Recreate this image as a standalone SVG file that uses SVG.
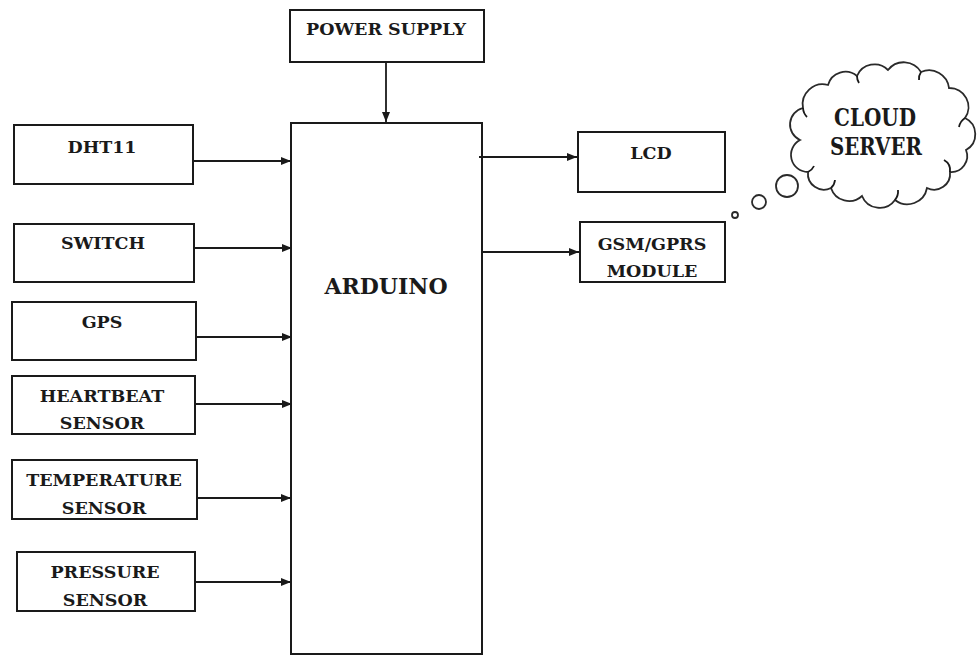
<svg xmlns="http://www.w3.org/2000/svg" width="978" height="657" viewBox="0 0 978 657">
<style>
.box{fill:#fff;stroke:#1a1a1a;stroke-width:2}
.lbl{font-family:"DejaVu Serif","Liberation Serif",serif;font-weight:bold;font-size:17.5px;fill:#1a1a1a;text-anchor:middle}
.big{font-size:22px}
.cl{font-size:24px}
.con{stroke:#1a1a1a;stroke-width:1.8;fill:none}
.cloud{fill:#fff;stroke:#2a2a2a;stroke-width:1.8}
</style>
<defs>
<marker id="ah" markerUnits="userSpaceOnUse" markerWidth="11" markerHeight="9" refX="10" refY="4" orient="auto">
<path d="M0,0 L10,4 L0,8 z" fill="#1a1a1a"/>
</marker>
</defs>
<rect width="978" height="657" fill="#fff"/>

<g id="power">
<rect class="box" x="290" y="10" width="194" height="52"/>
<text class="lbl" x="386" y="35">POWER SUPPLY</text>
</g>
<g id="arduino">
<rect class="box" x="291" y="123" width="191" height="531"/>
<text class="lbl big" x="386" y="294">ARDUINO</text>
</g>
<g id="dht11">
<rect class="box" x="14" y="125" width="179" height="59"/>
<text class="lbl" x="102" y="153">DHT11</text>
</g>
<g id="switch">
<rect class="box" x="14" y="224" width="180" height="58"/>
<text class="lbl" x="103" y="249">SWITCH</text>
</g>
<g id="gps">
<rect class="box" x="12" y="302" width="184" height="58"/>
<text class="lbl" x="102" y="328">GPS</text>
</g>
<g id="heartbeat">
<rect class="box" x="12" y="376" width="183" height="58"/>
<text class="lbl" x="102" y="402">HEARTBEAT</text>
<text class="lbl" x="102" y="429">SENSOR</text>
</g>
<g id="temperature">
<rect class="box" x="12" y="460" width="185" height="59"/>
<text class="lbl" x="104" y="486">TEMPERATURE</text>
<text class="lbl" x="104" y="514">SENSOR</text>
</g>
<g id="pressure">
<rect class="box" x="17" y="552" width="178" height="59"/>
<text class="lbl" x="105" y="578">PRESSURE</text>
<text class="lbl" x="105" y="606">SENSOR</text>
</g>
<g id="lcd">
<rect class="box" x="578" y="132" width="147" height="60"/>
<text class="lbl" x="651" y="159">LCD</text>
</g>
<g id="gsm">
<rect class="box" x="580" y="222" width="145" height="60"/>
<text class="lbl" x="652" y="250">GSM/GPRS</text>
<text class="lbl" x="652" y="277">MODULE</text>
</g>
<g id="cloud">
<path class="cloud" d="M800,140 A17,17 0 0 1 803,108 A20,20 0 0 1 828,85 A18,18 0 0 1 857,76 A19,19 0 0 1 888,70 A20,20 0 0 1 921,72 A20,20 0 0 1 949,88 A19,19 0 0 1 965,118 A18,18 0 0 1 966,150 A16,16 0 0 1 950,172 A16,16 0 0 1 927,188 A20,20 0 0 1 895,200 A19,19 0 0 1 862,196 A19,19 0 0 1 831,188 A16,16 0 0 1 808,172 A17,17 0 0 1 800,140 z"/>
<path class="con" d="M803,108 A14,14 0 0 0 807,117 M857,76 A12,12 0 0 0 859,83 M921,72 A12,12 0 0 0 919,80 M965,118 A14,14 0 0 0 959,127 M950,172 A12,12 0 0 0 944,160 M895,200 A14,14 0 0 0 898,190 M831,188 A12,12 0 0 0 835,180 M808,172 A12,12 0 0 0 814,166" stroke-width="1.5"/>
<circle class="cloud" cx="787" cy="186" r="11"/>
<circle class="cloud" cx="759" cy="202" r="7"/>
<circle class="cloud" cx="735" cy="215" r="3"/>
<text class="lbl cl" x="875" y="126" textLength="82" lengthAdjust="spacingAndGlyphs">CLOUD</text>
<text class="lbl cl" x="876" y="155" textLength="92" lengthAdjust="spacingAndGlyphs">SERVER</text>
</g>

<g id="connectors">
<line class="con" x1="386" y1="62" x2="386" y2="122" marker-end="url(#ah)"/>
<line class="con" x1="193" y1="161" x2="291" y2="161" marker-end="url(#ah)"/>
<line class="con" x1="194" y1="248" x2="292" y2="248" marker-end="url(#ah)"/>
<line class="con" x1="196" y1="337" x2="292" y2="337" marker-end="url(#ah)"/>
<line class="con" x1="195" y1="404" x2="292" y2="404" marker-end="url(#ah)"/>
<line class="con" x1="197" y1="498" x2="291" y2="498" marker-end="url(#ah)"/>
<line class="con" x1="195" y1="582" x2="291" y2="582" marker-end="url(#ah)"/>
<line class="con" x1="479" y1="157" x2="577" y2="157" marker-end="url(#ah)"/>
<line class="con" x1="483" y1="252" x2="579" y2="252" marker-end="url(#ah)"/>
</g>
</svg>
